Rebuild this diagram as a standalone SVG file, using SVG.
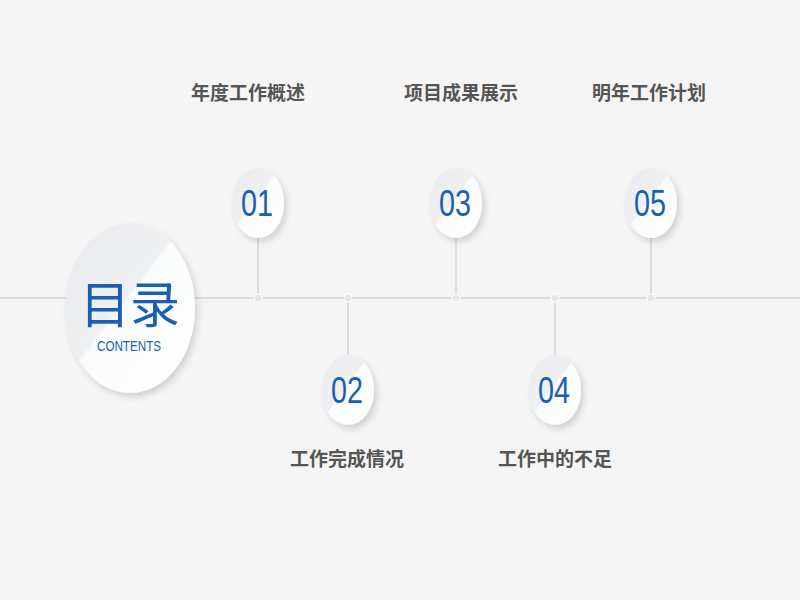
<svg xmlns="http://www.w3.org/2000/svg" width="800" height="600" viewBox="0 0 800 600">
<defs>
<linearGradient id="g" x1="0" y1="0" x2="1" y2="1"><stop offset="0" stop-color="#eaebee"/><stop offset="0.45" stop-color="#eef0f2"/><stop offset="0.47" stop-color="#fafbfc"/><stop offset="1" stop-color="#ffffff"/></linearGradient>
<filter id="sh" x="-30%" y="-30%" width="160%" height="160%"><feDropShadow dx="3" dy="4" stdDeviation="3" flood-color="#000" flood-opacity="0.15"/></filter>
</defs>
<style>
.b{fill:url(#g);filter:url(#sh)}
.n{font-family:"Liberation Sans",sans-serif;font-size:36px;fill:#1a5fb4;text-anchor:middle}
.t{font-family:"Noto Sans CJK SC",sans-serif;font-size:19px;font-weight:bold;fill:#555;text-anchor:middle}
.l{stroke:#dcdde0;stroke-width:2;fill:none}
.d{fill:#e6e7ea;stroke:#fff;stroke-width:1}
</style>
<rect width="800" height="600" fill="#f5f5f6"/>
<g id="connectors">
<line class="l" x1="0" y1="298" x2="800" y2="298"/>
<line class="l" x1="258" y1="238" x2="258" y2="298"/>
<line class="l" x1="456" y1="238" x2="456" y2="298"/>
<line class="l" x1="651" y1="238" x2="651" y2="298"/>
<line class="l" x1="348" y1="298" x2="348" y2="356"/>
<line class="l" x1="555" y1="298" x2="555" y2="356"/>
<circle class="d" cx="258" cy="298" r="4"/><circle class="d" cx="348" cy="298" r="4"/><circle class="d" cx="456" cy="298" r="4"/><circle class="d" cx="555" cy="298" r="4"/><circle class="d" cx="651" cy="298" r="4"/>
</g>
<g id="main">
<ellipse class="b" cx="130" cy="308" rx="65" ry="85"/>
<text x="130" y="323" font-family="Noto Sans CJK SC,sans-serif" font-size="50" fill="#1a5fb4" text-anchor="middle">目录</text>
<text x="129" y="351" font-family="Liberation Sans,sans-serif" font-size="14" fill="#1a5fb4" text-anchor="middle" textLength="64" lengthAdjust="spacingAndGlyphs">CONTENTS</text>
</g>
<g id="n01"><ellipse class="b" cx="258" cy="203" rx="26" ry="35"/><text class="n" x="257" y="216" textLength="32" lengthAdjust="spacingAndGlyphs">01</text><text class="t" x="248" y="100">年度工作概述</text></g>
<g id="n02"><ellipse class="b" cx="348" cy="390" rx="26" ry="35"/><text class="n" x="347" y="403" textLength="32" lengthAdjust="spacingAndGlyphs">02</text><text class="t" x="347" y="466">工作完成情况</text></g>
<g id="n03"><ellipse class="b" cx="456" cy="203" rx="26" ry="35"/><text class="n" x="455" y="216" textLength="32" lengthAdjust="spacingAndGlyphs">03</text><text class="t" x="461" y="100">项目成果展示</text></g>
<g id="n04"><ellipse class="b" cx="555" cy="390" rx="26" ry="35"/><text class="n" x="554" y="403" textLength="32" lengthAdjust="spacingAndGlyphs">04</text><text class="t" x="555" y="466">工作中的不足</text></g>
<g id="n05"><ellipse class="b" cx="651" cy="203" rx="26" ry="35"/><text class="n" x="650" y="216" textLength="32" lengthAdjust="spacingAndGlyphs">05</text><text class="t" x="649" y="100">明年工作计划</text></g>
</svg>
